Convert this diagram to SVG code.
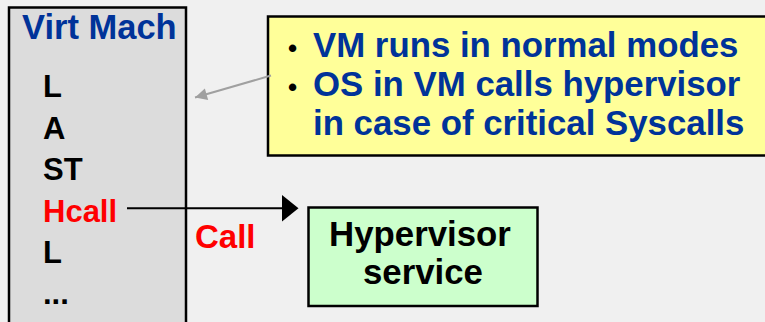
<svg xmlns="http://www.w3.org/2000/svg" width="765" height="322" viewBox="0 0 765 322">
  <style>
    text { font-family: "Liberation Sans", Arial, sans-serif; font-weight: bold; }
    .blue { fill: #003399; }
    .red { fill: #ff0000; }
    .black { fill: #000000; }
    .box { stroke: #000000; stroke-width: 2.5; }
  </style>
  <defs>
    <marker id="grayHead" viewBox="0 0 10 10" refX="10" refY="5" markerWidth="15" markerHeight="12" markerUnits="userSpaceOnUse" orient="auto">
      <path d="M0,0 L10,5 L0,10 Z" fill="#a0a0a0"/>
    </marker>
  </defs>

  <rect x="0" y="0" width="765" height="322" fill="#f0f0f0"/>

  <!-- virtual machine instruction stream -->
  <g id="virt-mach">
    <rect class="box" x="9" y="7.5" width="177" height="330" fill="#dcdcdc"/>
    <text class="blue" x="22" y="39" font-size="34.5">Virt Mach</text>
    <text class="black" x="43" y="97" font-size="31">L</text>
    <text class="black" x="43" y="138.5" font-size="31">A</text>
    <text class="black" x="43" y="180" font-size="31">ST</text>
    <text class="red" x="43" y="221.5" font-size="31">Hcall</text>
    <text class="black" x="43" y="263" font-size="31">L</text>
    <text class="black" x="43" y="304" font-size="31">...</text>
  </g>

  <!-- explanation note -->
  <g id="note">
    <rect class="box" x="268" y="16.5" width="520" height="139" fill="#ffff99"/>
    <text class="black" x="288" y="57" font-size="26">•</text>
    <text class="blue" x="313" y="57" font-size="34.8">VM runs in normal modes</text>
    <text class="black" x="288" y="95.5" font-size="26">•</text>
    <text class="blue" x="313" y="95.5" font-size="34.8">OS in VM calls hypervisor</text>
    <text class="blue" x="313" y="135" font-size="34.8">in case of critical Syscalls</text>
  </g>

  <!-- hypervisor service -->
  <g id="hypervisor">
    <rect class="box" x="308.5" y="207.5" width="229" height="98.5" fill="#ccffcc"/>
    <text class="black" x="420" y="246" font-size="34.8" text-anchor="middle">Hypervisor</text>
    <text class="black" x="423" y="283.5" font-size="34.8" text-anchor="middle">service</text>
  </g>

  <!-- connectors -->
  <g id="connectors">
    <line x1="271" y1="75.5" x2="195" y2="97.5" stroke="#a0a0a0" stroke-width="2" marker-end="url(#grayHead)"/>
    <line x1="127" y1="208.3" x2="284" y2="208.3" stroke="#000000" stroke-width="2"/>
    <path d="M282,195 L298.5,208.3 L282,221.5 Z" fill="#000000"/>
    <text class="red" x="195" y="248.3" font-size="33">Call</text>
  </g>
</svg>
